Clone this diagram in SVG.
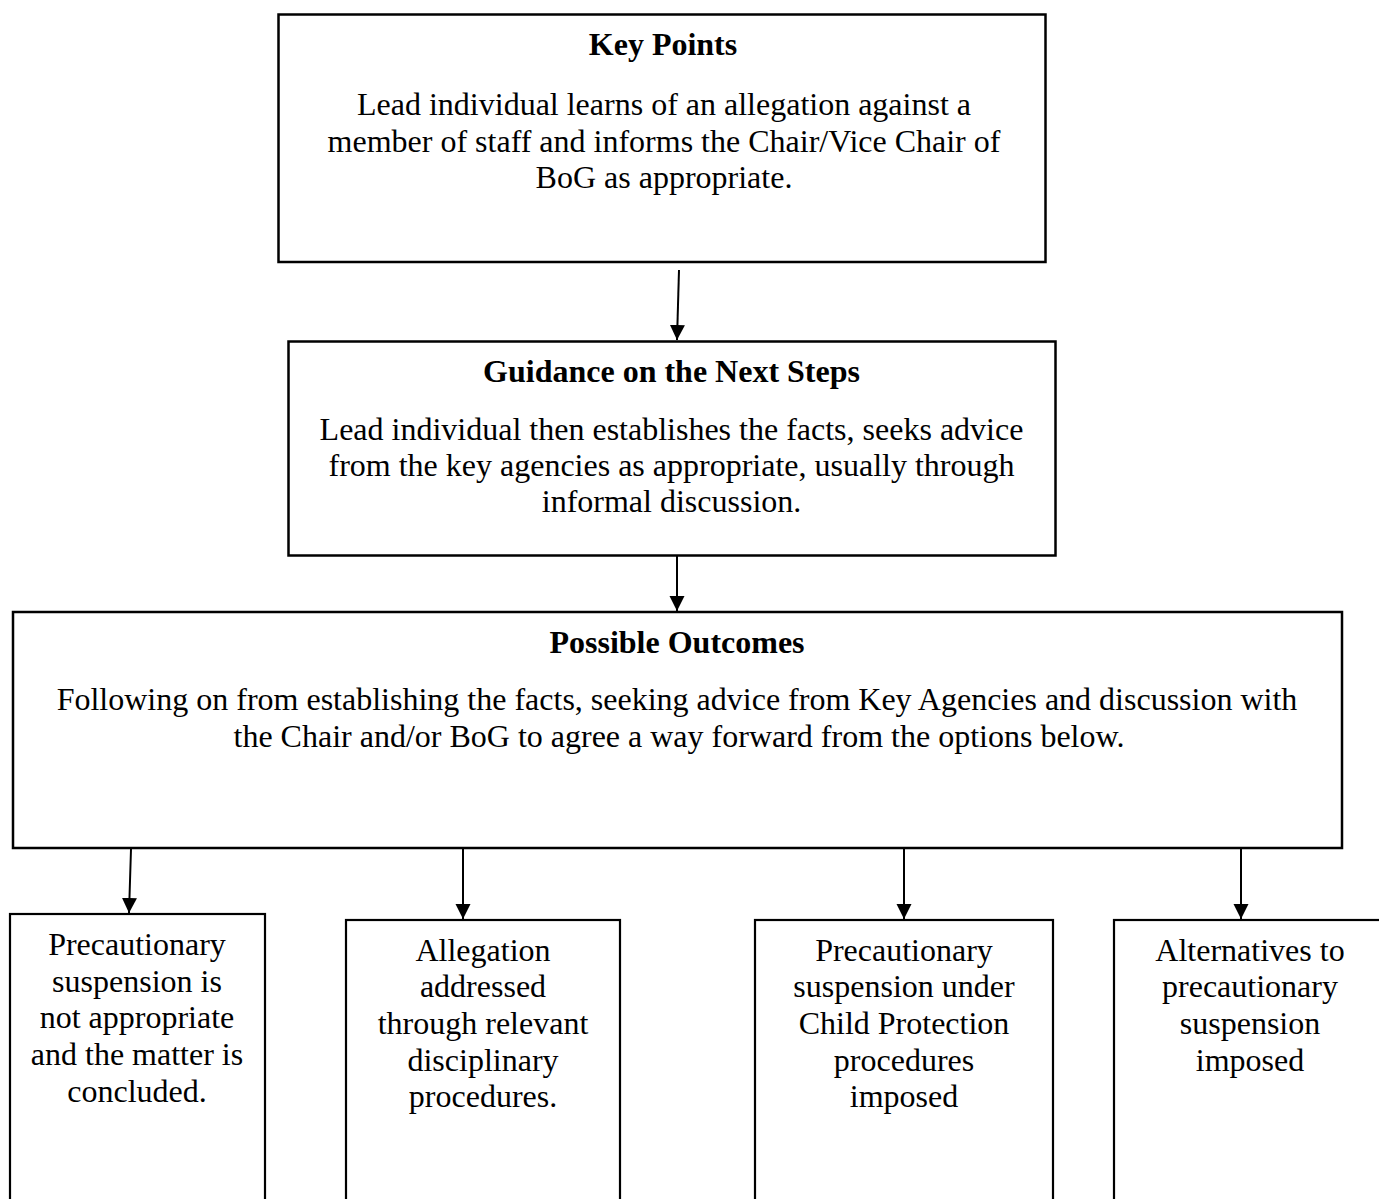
<svg xmlns="http://www.w3.org/2000/svg" width="1379" height="1199" viewBox="0 0 1379 1199">
  <style>
    .box { fill: #ffffff; stroke: #000000; stroke-width: 2.5; }
    .sbox { fill: #ffffff; stroke: #000000; stroke-width: 2.2; }
    .t { font-family: "Liberation Serif", "Times New Roman", serif; font-size: 32px; fill: #000000; text-anchor: middle; }
    .h { font-weight: bold; }
    .conn { stroke: #000000; stroke-width: 2; fill: none; marker-end: url(#arrow); }
  </style>
  <defs>
    <marker id="arrow" markerUnits="userSpaceOnUse" markerWidth="16" markerHeight="16" refX="15" refY="7.5" orient="auto">
      <path d="M0,0 L15,7.5 L0,15 Z" fill="#000000"/>
    </marker>
  </defs>
  <rect width="1379" height="1199" fill="#ffffff"/>

  <g id="connectors">
    <line class="conn" x1="679" y1="270" x2="677" y2="340"/>
    <line class="conn" x1="677" y1="556" x2="677" y2="611"/>
    <line class="conn" x1="131" y1="849" x2="129" y2="913"/>
    <line class="conn" x1="463" y1="849" x2="463" y2="919"/>
    <line class="conn" x1="904" y1="849" x2="904" y2="919"/>
    <line class="conn" x1="1241" y1="849" x2="1241" y2="919"/>
  </g>

  <g id="key-points">
    <rect class="box" x="278.5" y="14.5" width="767" height="247.5"/>
    <text class="t h" x="663" y="55">Key Points</text>
    <text class="t" x="664" y="115">Lead individual learns of an allegation against a</text>
    <text class="t" x="664" y="152">member of staff and informs the Chair/Vice Chair of</text>
    <text class="t" x="664" y="188">BoG as appropriate.</text>
  </g>

  <g id="guidance">
    <rect class="box" x="288.5" y="341.5" width="767" height="214"/>
    <text class="t h" x="671.5" y="382">Guidance on the Next Steps</text>
    <text class="t" x="671.5" y="440">Lead individual then establishes the facts, seeks advice</text>
    <text class="t" x="671.5" y="476">from the key agencies as appropriate, usually through</text>
    <text class="t" x="671.5" y="512">informal discussion.</text>
  </g>

  <g id="possible-outcomes">
    <rect class="box" x="13" y="612" width="1329" height="236"/>
    <text class="t h" x="677" y="653">Possible Outcomes</text>
    <text class="t" x="677" y="710">Following on from establishing the facts, seeking advice from Key Agencies and discussion with</text>
    <text class="t" x="679" y="747">the Chair and/or BoG to agree a way forward from the options below.</text>
  </g>

  <g id="outcome-not-appropriate">
    <rect class="sbox" x="10" y="914" width="255" height="300"/>
    <text class="t" x="137" y="955">Precautionary</text>
    <text class="t" x="137" y="992">suspension is</text>
    <text class="t" x="137" y="1028">not appropriate</text>
    <text class="t" x="137" y="1065">and the matter is</text>
    <text class="t" x="137" y="1102">concluded.</text>
  </g>

  <g id="outcome-disciplinary">
    <rect class="sbox" x="346" y="920" width="274" height="300"/>
    <text class="t" x="483" y="961">Allegation</text>
    <text class="t" x="483" y="997">addressed</text>
    <text class="t" x="483" y="1034">through relevant</text>
    <text class="t" x="483" y="1071">disciplinary</text>
    <text class="t" x="483" y="1107">procedures.</text>
  </g>

  <g id="outcome-child-protection">
    <rect class="sbox" x="755" y="920" width="298" height="300"/>
    <text class="t" x="904" y="961">Precautionary</text>
    <text class="t" x="904" y="997">suspension under</text>
    <text class="t" x="904" y="1034">Child Protection</text>
    <text class="t" x="904" y="1071">procedures</text>
    <text class="t" x="904" y="1107">imposed</text>
  </g>

  <g id="outcome-alternatives">
    <rect class="sbox" x="1114" y="920" width="272" height="300"/>
    <text class="t" x="1250" y="961">Alternatives to</text>
    <text class="t" x="1250" y="997">precautionary</text>
    <text class="t" x="1250" y="1034">suspension</text>
    <text class="t" x="1250" y="1071">imposed</text>
  </g>
</svg>
